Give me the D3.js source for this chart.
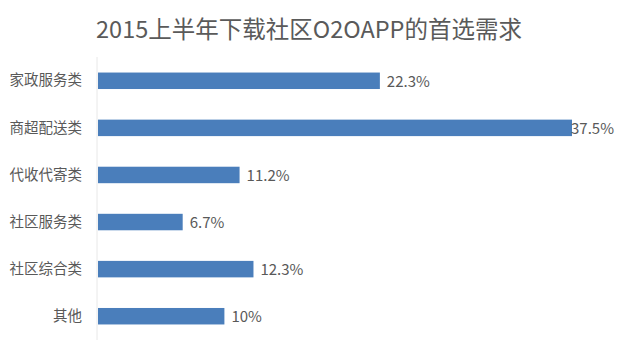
<!DOCTYPE html>
<html><head><meta charset="utf-8">
<script src="https://cdn.jsdelivr.net/npm/d3@7"></script>
<style>body{margin:0;background:#fff}svg{display:block}</style>
</head><body>
<svg id="c" width="623" height="358"></svg>
<script>
const title = "2015上半年下载社区O2OAPP的首选需求";
const categories = ["家政服务类","商超配送类","代收代寄类","社区服务类","社区综合类","其他"];
const values = [22.3, 37.5, 11.2, 6.7, 12.3, 10];
const valueLabels = ["22.3%","37.5%","11.2%","6.7%","12.3%","10%"];

const W = 623, H = 358;
const m = {left: 97, right: 51, top: 57, bottom: 18};
const svg = d3.select("#c");
const font = "'Noto Sans CJK SC','Microsoft YaHei',sans-serif";

svg.append("rect").attr("width",W).attr("height",H).attr("fill","#fff");

svg.append("text").attr("x",309).attr("y",38).attr("text-anchor","middle")
  .attr("font-family",font).attr("font-size",23.5).attr("fill","#5a5a5a").text(title);

const x = d3.scaleLinear().domain([0, 37.5]).range([m.left + 1, 572]);
const y = d3.scaleBand().domain(categories).range([m.top, H - m.bottom]).paddingInner(0.65).paddingOuter(0.33);

svg.append("line").attr("x1",m.left).attr("x2",m.left).attr("y1",m.top).attr("y2",H-m.bottom)
  .attr("stroke","#e8e8e8").attr("stroke-width",1);

const yAxis = d3.axisLeft(y).tickSize(0).tickPadding(15);
const ga = svg.append("g").attr("transform",`translate(${m.left},0)`).call(yAxis);
ga.select(".domain").remove();
ga.selectAll("text").attr("font-family",font).attr("font-size",14.5).attr("fill","#595959");

svg.selectAll("rect.bar").data(values).join("rect").attr("class","bar")
  .attr("x", x(0)).attr("y",(d,i)=>y(categories[i]))
  .attr("width", d=>x(d)-x(0)).attr("height", y.bandwidth())
  .attr("fill","#4a7ebb");

svg.selectAll("text.val").data(values).join("text").attr("class","val")
  .attr("x", d=>Math.min(x(d)+7, 571)).attr("y",(d,i)=>y(categories[i])+y.bandwidth()/2+1)
  .attr("dy","0.35em").attr("font-family",font).attr("font-size",15).attr("fill","#595959")
  .text((d,i)=>valueLabels[i]);
</script>
</body></html>
